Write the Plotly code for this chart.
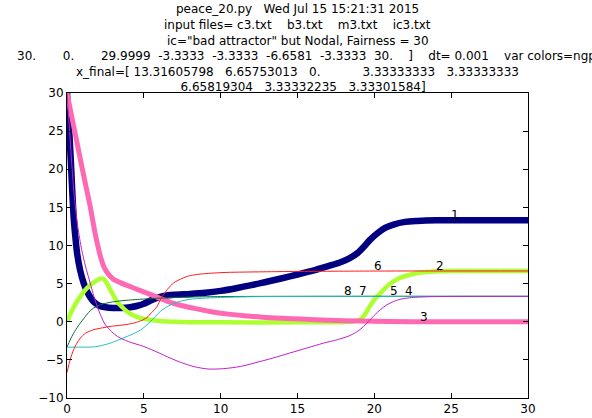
import plotly.graph_objects as go

# ---- data ----
t1 = [0, 0.1, 0.23, 0.35, 0.45, 0.56, 0.67, 0.85, 1.08, 1.3, 1.55, 1.8, 2.1, 2.5, 3.0, 3.5, 4.1, 4.6, 5.0, 5.4, 5.8, 6.3, 7.0, 8.0, 9.0, 10.0, 11.0, 12.0, 13.0, 14.0, 15.0, 16.0, 17.0, 17.8, 18.4, 18.9, 19.3, 19.7, 20.2, 20.7, 21.25, 22.0, 22.8, 24.0, 30.0]
v1 = [30, 26.5, 21.9, 16.8, 13.2, 10.8, 8.8, 6.8, 5.1, 4.0, 3.1, 2.5, 2.1, 1.9, 1.8, 1.8, 1.9, 2.1, 2.35, 2.75, 3.1, 3.4, 3.55, 3.65, 3.8, 4.05, 4.4, 4.8, 5.25, 5.7, 6.2, 6.7, 7.3, 7.8, 8.35, 9.0, 9.8, 10.7, 11.6, 12.3, 12.75, 13.1, 13.22, 13.3, 13.316]

t2 = [0, 0.3, 0.65, 1.0, 1.3, 1.7, 2.17, 2.35, 2.55, 2.9, 3.25, 3.6, 3.9, 4.3, 4.77, 5.4, 6.07, 7.0, 8.0, 10.0, 15.0, 18.0, 18.7, 19.1, 19.4, 19.7, 20.0, 20.4, 20.8, 21.25, 21.8, 22.3, 23.0, 23.85, 25.0, 30.0]
v2 = [0, 1.4, 2.66, 3.7, 4.4, 5.1, 5.65, 5.65, 5.2, 3.9, 2.66, 1.9, 1.35, 0.85, 0.48, 0.25, 0.1, 0.0, -0.05, -0.08, -0.08, -0.05, 0.05, 0.3, 1.0, 2.0, 2.9, 3.76, 4.6, 5.3, 5.85, 6.16, 6.45, 6.6, 6.65, 6.6575]

t3 = [0, 0.5, 1.0, 1.5, 1.84, 2.17, 2.4, 2.6, 3.0, 3.5, 4.0, 4.5, 5.2, 5.9, 6.5, 7.3, 8.3, 9.3, 10.5, 11.5, 12.7, 14.0, 15.2, 17.0, 19.0, 21.0, 23.0, 30.0]
v3 = [30, 25, 20, 15.2, 11.5, 8.6, 7.2, 6.5, 5.6, 5.1, 4.7, 4.3, 3.76, 3.2, 2.7, 2.2, 1.75, 1.35, 1.0, 0.8, 0.6, 0.45, 0.35, 0.2, 0.1, 0.03, 0.01, 0]

t_dg = [0, 0.2, 0.43, 0.75, 1.08, 1.4, 1.73, 2.2, 2.82, 3.4, 3.9, 5.0, 6.07, 7.0, 8.24, 10.0, 13.0, 30.0]
v_dg = [-3.33, -2.4, -1.5, -0.5, 0.4, 1.2, 1.8, 2.25, 2.55, 2.72, 2.82, 2.98, 3.1, 3.18, 3.25, 3.3, 3.33, 3.3333]

t_cy = [0, 0.8, 1.73, 2.3, 2.82, 3.4, 3.9, 4.4, 4.77, 5.1, 5.42, 5.75, 6.07, 6.5, 6.94, 7.5, 8.0, 9.0, 10.3, 12.0, 15.0, 30.0]
v_cy = [-3.33, -3.33, -3.3, -3.1, -2.8, -2.35, -1.93, -1.5, -1.1, -0.6, 0.0, 0.7, 1.35, 1.95, 2.4, 2.75, 2.95, 3.1, 3.2, 3.28, 3.32, 3.3333]

t6 = [0, 0.2, 0.43, 0.65, 0.87, 1.2, 1.73, 2.3, 2.82, 3.4, 3.9, 4.4, 4.9, 5.2, 5.5, 5.86, 6.1, 6.3, 6.6, 6.94, 7.4, 7.8, 8.3, 8.9, 10.4, 12.8, 15.0, 20.0, 30.0]
v6 = [-6.6581, -5.0, -3.67, -2.8, -2.14, -1.5, -1.05, -0.8, -0.61, -0.48, -0.35, -0.15, 0.2, 0.55, 1.2, 2.0, 3.0, 3.6, 4.4, 5.1, 5.6, 5.94, 6.15, 6.3, 6.47, 6.55, 6.6, 6.65, 6.6582]

t8 = [0, 0.2, 0.45, 0.7, 0.95, 1.2, 1.45, 1.7, 1.95, 2.2, 2.5, 2.9, 3.3, 4.0, 5.0, 6.0, 6.7, 7.5, 8.3, 9.2, 10.2, 11.3, 12.5, 13.4, 14.5, 15.6, 16.7, 17.6, 18.3, 18.8, 19.2, 19.6, 20.0, 20.4, 20.8, 21.25, 21.8, 22.3, 23.5, 25.0, 30.0]
v8 = [30, 24, 17, 12.5, 9.5, 7.3, 5.5, 3.7, 2.1, 0.8, -0.4, -1.3, -1.95, -2.6, -3.25, -4.1, -4.75, -5.4, -5.9, -6.2, -6.15, -5.86, -5.25, -4.76, -4.1, -3.45, -2.8, -2.35, -1.9, -1.4, -0.8, 0.0, 0.85, 1.6, 2.2, 2.66, 3.0, 3.15, 3.28, 3.32, 3.333]

x_final = [13.31605798, 6.65753013, 0.0, 3.33333333, 3.33333333, 6.65819304, 3.33332235, 3.33301584]
label_x = [25, 24, 23, 22, 21, 20, 19, 18]
label_txt = ["1", "2", "3", "4", "5", "6", "7", "8"]

x_ticks = [0, 5, 10, 15, 20, 25, 30]
y_ticks = [-10, -5, 0, 5, 10, 15, 20, 25, 30]

title_lines = [
    "peace_20.py   Wed Jul 15 15:21:31 2015",
    "input files= c3.txt    b3.txt    m3.txt    ic3.txt",
    'ic="bad attractor" but Nodal, Fairness = 30',
    "30.       0.       29.9999  -3.3333  -3.3333  -6.6581  -3.3333  30.    ]    dt= 0.001    var colors=ngpcdrcm",
    "x_final=[ 13.31605798   6.65753013   0.           3.33333333   3.33333333",
    "   6.65819304   3.33332235   3.33301584]",
]

FONT = "DejaVu Sans"

series = [
    (t1, v1, "#000080", 6.5),
    (t2, v2, "#adff2f", 4.5),
    (t3, v3, "#ff69b4", 5),
    (t_dg, v_dg, "#0b6b3a", 1),
    (t_cy, v_cy, "#1fbfbf", 1),
    (t6, v6, "#ff1a1a", 1),
    (t8, v8, "#c020c8", 1),
]

fig = go.Figure()
for xs, ys, col, w in series:
    fig.add_trace(go.Scatter(x=xs, y=ys, mode="lines",
                             line=dict(color=col, width=w, shape="spline", smoothing=0.8),
                             hoverinfo="skip"))

for lx, ly, lt in zip(label_x, x_final, label_txt):
    fig.add_annotation(x=lx, y=ly, text=lt, showarrow=False, xanchor="left", yanchor="bottom",
                       xshift=-2, yshift=-4, font=dict(family=FONT, size=12, color="black"))

nb = lambda s: s.replace(" ", "\u00a0")
PT, PB = 93, 398
def py2paper(py):
    return (PB - py) / (PB - PT)

centers = [9, 25, 40.7, 56, 71.7, 87.3]
for i, (line, cy) in enumerate(zip(title_lines, centers)):
    if i == 3:
        fig.add_annotation(xref="paper", yref="paper", x=(15 - 67) / 461, y=py2paper(cy),
                           xanchor="left", yanchor="middle", text=nb(line), showarrow=False,
                           font=dict(family=FONT, size=12, color="black"))
    else:
        fig.add_annotation(xref="paper", yref="paper", x=0.5, y=py2paper(cy),
                           xanchor="center", yanchor="middle", text=nb(line), showarrow=False,
                           font=dict(family=FONT, size=12, color="black"))

def lab(v):
    return str(v).replace("-", "\u2212")

axis_common = dict(showline=True, linecolor="black", linewidth=1, mirror="ticks",
                   ticks="inside", ticklen=5, tickcolor="black", tickwidth=1,
                   showgrid=False, zeroline=False, automargin=False,
                   tickfont=dict(family=FONT, size=12, color="black"))
fig.update_xaxes(range=[0, 30], tickmode="array", tickvals=x_ticks,
                 ticktext=[lab(v) for v in x_ticks], **axis_common)
fig.update_yaxes(range=[-10, 30], tickmode="array", tickvals=y_ticks,
                 ticktext=[lab(v) for v in y_ticks], **axis_common)

fig.update_layout(width=592, height=418, margin=dict(l=67, r=64, t=93, b=20, autoexpand=False),
                  paper_bgcolor="white", plot_bgcolor="white", showlegend=False,
                  font=dict(family=FONT, size=12, color="black"))

fig.write_html("out.html", config={"displayModeBar": False},
               post_script="document.body.style.margin='0';document.body.style.overflow='hidden';")
